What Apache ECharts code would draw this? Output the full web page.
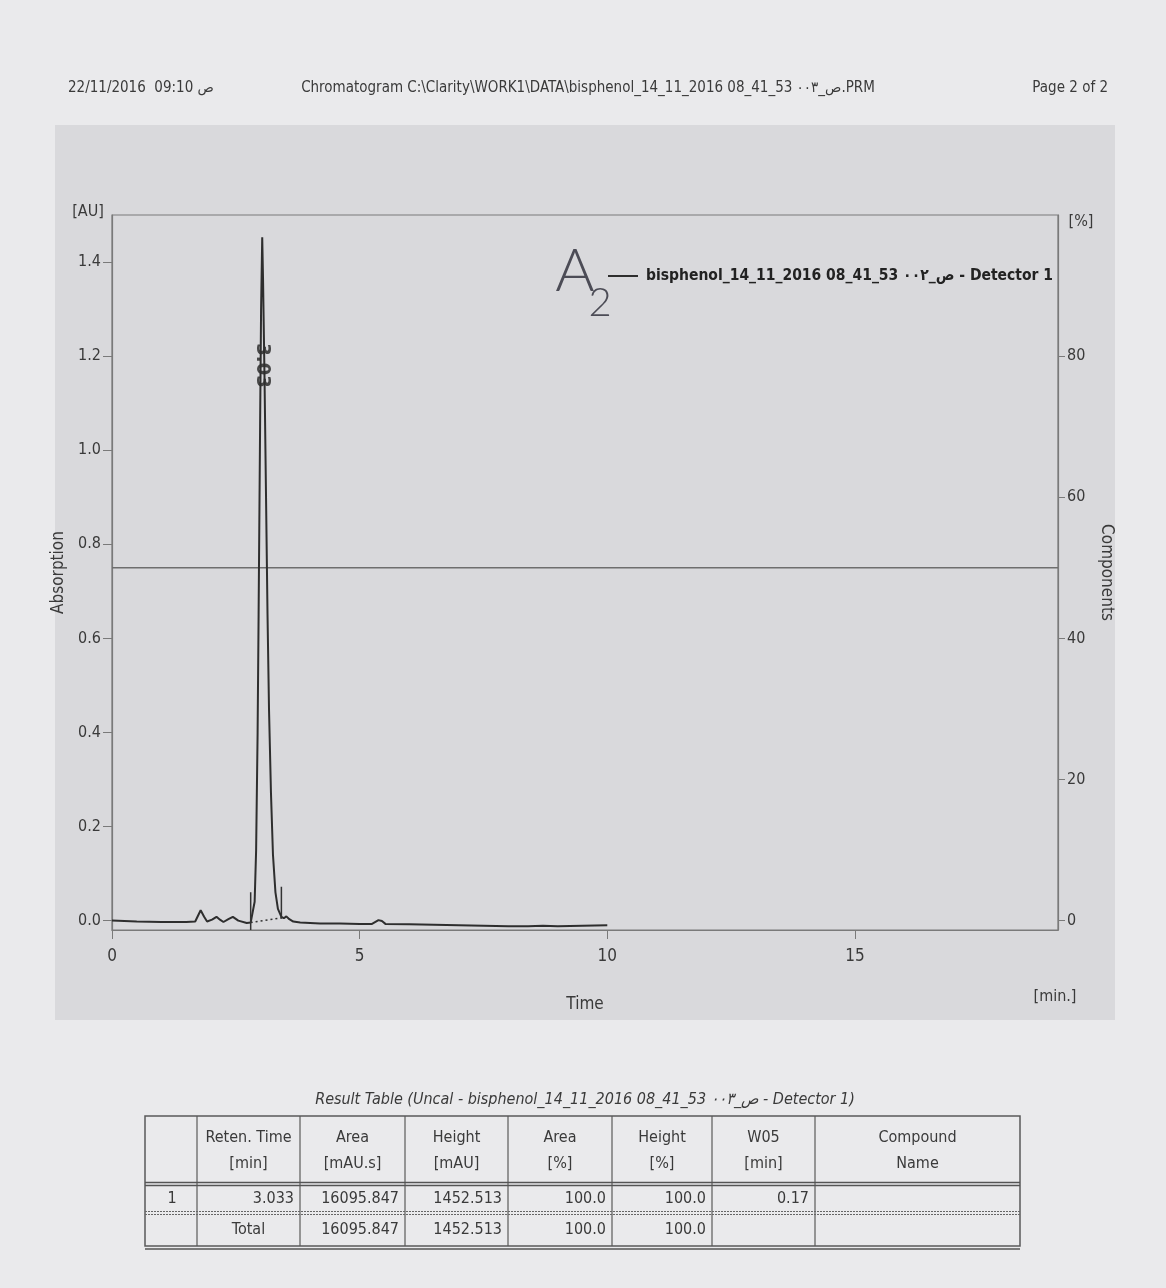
<!DOCTYPE html>
<html>
<head>
<meta charset="utf-8">
<script src="https://cdn.jsdelivr.net/npm/echarts@6/dist/echarts.min.js"></script>
<style>
  html, body { margin: 0; padding: 0; background: #eaeaec; }
  #chart { width: 1166px; height: 1288px; }
</style>
</head>
<body>
<div id="chart"></div>
<script>
// Detector 1 trace: retention time [min] and absorbance [AU]
const traceTime = [0, 0.5, 1.0, 1.5, 1.68, 1.79, 1.86, 1.92, 2.02, 2.11, 2.18, 2.25, 2.35, 2.44, 2.55, 2.72,
  2.80, 2.84, 2.88, 2.91, 2.94, 2.96, 2.99, 3.01, 3.033, 3.05, 3.08, 3.11, 3.14, 3.17, 3.21, 3.25, 3.30, 3.35,
  3.42, 3.47, 3.52, 3.58, 3.66, 3.8, 4.2, 4.6, 5.0, 5.25, 5.38, 5.45, 5.52, 6.0, 6.5, 7.0, 7.5, 8.0,
  8.4, 8.7, 9.0, 9.5, 10.0];
const traceAU = [0.000, -0.002, -0.003, -0.003, -0.002, 0.022, 0.008, -0.002, 0.002, 0.008, 0.002, -0.003, 0.003, 0.008, 0.000, -0.005,
  -0.004, 0.000, 0.04, 0.15, 0.40, 0.65, 1.05, 1.30, 1.452513, 1.36, 1.15, 0.90, 0.65, 0.45, 0.27, 0.14, 0.06, 0.025,
  0.008, 0.005, 0.009, 0.003, -0.002, -0.004, -0.006, -0.006, -0.007, -0.007, 0.001, -0.001, -0.007, -0.008, -0.009, -0.010, -0.011, -0.012,
  -0.012, -0.011, -0.012, -0.011, -0.010];

// Integration: peak start / end and the components level
const peakStart = 2.80;
const peakEnd = 3.42;
const peakRetention = 3.033;
const componentsLevel = 50;

// Axis ticks
const timeTicks = [0, 5, 10, 15];
const auTicks = [0, 0.2, 0.4, 0.6, 0.8, 1.0, 1.2, 1.4];
const pctTicks = [0, 20, 40, 60, 80];

// Result table
const tableHeaders = [['', ''], ['Reten. Time', '[min]'], ['Area', '[mAU.s]'], ['Height', '[mAU]'],
  ['Area', '[%]'], ['Height', '[%]'], ['W05', '[min]'], ['Compound', 'Name']];
const peakRow = ['1', '3.033', '16095.847', '1452.513', '100.0', '100.0', '0.17', ''];
const totalRow = ['', 'Total', '16095.847', '1452.513', '100.0', '100.0', '', ''];

const traceName = 'bisphenol_14_11_2016 08_41_53 ص_٠٠٢ - Detector 1';
const FONT = "'DejaVu Sans Condensed', 'Liberation Sans Narrow', 'DejaVu Sans', sans-serif";
const INK = '#3a3a3a';
const AXIS = '#7a7a7a';

const chart = echarts.init(document.getElementById('chart'), null, { renderer: 'canvas' });

// table geometry
const colX = [145, 197, 300, 405, 508, 612, 712, 815, 1020];
const rowY = [1116, 1184, 1213, 1246];

const tableEls = [];
tableEls.push({ type: 'rect', shape: { x: colX[0], y: rowY[0], width: colX[8] - colX[0], height: rowY[3] - rowY[0] },
  style: { fill: 'rgba(0,0,0,0)', stroke: '#5a5a5a', lineWidth: 1.5 } });
for (let i = 1; i < colX.length - 1; i++) {
  tableEls.push({ type: 'line', shape: { x1: colX[i], y1: rowY[0], x2: colX[i], y2: rowY[3] },
    style: { stroke: '#5a5a5a', lineWidth: 1.2 } });
}
tableEls.push({ type: 'line', shape: { x1: colX[0], y1: rowY[1] - 1.5, x2: colX[8], y2: rowY[1] - 1.5 }, style: { stroke: '#555', lineWidth: 1.5 } });
tableEls.push({ type: 'line', shape: { x1: colX[0], y1: rowY[1] + 1.5, x2: colX[8], y2: rowY[1] + 1.5 }, style: { stroke: '#555', lineWidth: 1.5 } });
tableEls.push({ type: 'line', shape: { x1: colX[0], y1: rowY[2] - 1.5, x2: colX[8], y2: rowY[2] - 1.5 }, style: { stroke: '#666', lineWidth: 1, lineDash: [2, 1] } });
tableEls.push({ type: 'line', shape: { x1: colX[0], y1: rowY[2] + 1.5, x2: colX[8], y2: rowY[2] + 1.5 }, style: { stroke: '#666', lineWidth: 1, lineDash: [2, 1] } });
tableEls.push({ type: 'line', shape: { x1: colX[0], y1: rowY[3] + 3, x2: colX[8], y2: rowY[3] + 3 }, style: { stroke: '#555', lineWidth: 1.5 } });

tableHeaders.forEach((h, i) => {
  const cx = (colX[i] + colX[i + 1]) / 2;
  [0, 1].forEach(k => {
    if (!h[k]) return;
    tableEls.push({ type: 'text', x: cx, y: rowY[0] + 22 + k * 26,
      style: { text: h[k], font: '16px ' + FONT, fill: INK, align: 'center', verticalAlign: 'middle' } });
  });
});
[peakRow, totalRow].forEach((row, r) => {
  const cy = (rowY[r + 1] + rowY[r + 2]) / 2;
  row.forEach((v, i) => {
    if (!v) return;
    let x = colX[i + 1] - 6, align = 'right';
    if (i === 0) { x = colX[0] + 27; align = 'center'; }
    if (v === 'Total') { x = (colX[1] + colX[2]) / 2; align = 'center'; }
    tableEls.push({ type: 'text', x: x, y: cy,
      style: { text: v, font: '16px ' + FONT, fill: INK, align: align, verticalAlign: 'middle' } });
  });
});

const option = {
  backgroundColor: '#eaeaec',
  animation: false,
  textStyle: { fontFamily: FONT },
  grid: { left: 112, right: 108, top: 215, height: 715, show: true, borderColor: AXIS, borderWidth: 1.2, backgroundColor: 'rgba(0,0,0,0)' },
  legend: {
    left: 603, top: 263, itemWidth: 30, itemHeight: 2, icon: 'rect', itemGap: 0,
    data: [traceName],
    textStyle: { fontFamily: FONT, fontWeight: 'bold', fontSize: 15.5, color: '#222', padding: [0, 0, 0, 3] }
  },
  xAxis: {
    type: 'value', min: 0, max: 19.1, interval: 5,
    name: 'Time', nameLocation: 'middle', nameGap: 66,
    nameTextStyle: { fontSize: 17, color: INK, fontFamily: FONT },
    axisLine: { show: true, onZero: false, lineStyle: { color: AXIS, width: 1.2 } },
    axisTick: { show: true, length: 9, lineStyle: { color: AXIS }, customValues: timeTicks },
    axisLabel: { fontSize: 17, color: INK, margin: 18, customValues: timeTicks, formatter: v => String(v) },
    splitLine: { show: false }
  },
  yAxis: [{
    type: 'value', min: -0.02, max: 1.5, position: 'left',
    name: 'Absorption', nameLocation: 'middle', nameGap: 40, nameRotate: 90,
    nameTextStyle: { fontSize: 17, color: INK, fontFamily: FONT },
    axisLine: { show: true, lineStyle: { color: AXIS, width: 1.2 } },
    axisTick: { show: true, length: 9, lineStyle: { color: AXIS }, customValues: auTicks },
    axisLabel: { fontSize: 16, color: INK, margin: 11, customValues: auTicks, formatter: v => v.toFixed(1) },
    splitLine: { show: false }
  }, {
    type: 'value', min: -1.3333, max: 100, position: 'right',
    name: 'Components', nameLocation: 'middle', nameGap: 40, nameRotate: -90,
    nameTextStyle: { fontSize: 17, color: INK, fontFamily: FONT },
    axisLine: { show: true, lineStyle: { color: AXIS, width: 1.2 } },
    axisTick: { show: true, length: 7, lineStyle: { color: AXIS }, customValues: pctTicks },
    axisLabel: { fontSize: 16, color: INK, margin: 9, customValues: pctTicks, formatter: v => String(v) },
    splitLine: { show: false }
  }],
  series: [{
    name: 'components',
    type: 'line', yAxisIndex: 1, showSymbol: false, silent: true,
    data: [[0, componentsLevel], [19.1, componentsLevel]],
    lineStyle: { color: '#6e6e6e', width: 1.4 }
  }, {
    name: traceName,
    type: 'line', yAxisIndex: 0, showSymbol: false, smooth: false,
    data: traceTime.map((t, i) => [t, traceAU[i]]),
    itemStyle: { color: '#2e2e2e' },
    lineStyle: { color: '#2e2e2e', width: 2 }
  }, {
    name: 'baseline',
    type: 'line', yAxisIndex: 0, showSymbol: false,
    data: [[peakStart, -0.004], [peakEnd, 0.006]],
    lineStyle: { color: '#333', width: 1.5, type: [2, 3] }
  }, {
    name: 'start',
    type: 'line', yAxisIndex: 0, showSymbol: false,
    data: [[peakStart, -0.02], [peakStart, 0.06]],
    lineStyle: { color: '#333', width: 1.5 }
  }, {
    name: 'end',
    type: 'line', yAxisIndex: 0, showSymbol: false,
    data: [[peakEnd, 0.004], [peakEnd, 0.072]],
    lineStyle: { color: '#333', width: 1.5 }
  }, {
    name: 'peak label',
    type: 'scatter', yAxisIndex: 0, symbolSize: 0,
    data: [[peakRetention, 1.18]],
    label: {
      show: true, position: 'inside', rotate: -90,
      formatter: p => p.value[0].toFixed(2),
      fontSize: 20, fontWeight: 'bold', color: '#222', fontFamily: FONT
    }
  }],
  graphic: [
    // printed panel behind the plot
    { type: 'rect', z: -10, shape: { x: 55, y: 125, width: 1060, height: 895 }, style: { fill: '#d9d9dc' } },
    { type: 'text', x: 68, y: 88, style: { text: '22/11/2016  09:10 ص', font: '15px ' + FONT, fill: INK, verticalAlign: 'middle' } },
    { type: 'text', x: 588, y: 88, style: { text: 'Chromatogram C:\\Clarity\\WORK1\\DATA\\bisphenol_14_11_2016 08_41_53 ص_٠٠٣.PRM', font: '15px ' + FONT, fill: INK, align: 'center', verticalAlign: 'middle' } },
    { type: 'text', x: 1108, y: 88, style: { text: 'Page 2 of 2', font: '15px ' + FONT, fill: INK, align: 'right', verticalAlign: 'middle' } },
    { type: 'text', x: 88, y: 212, style: { text: '[AU]', font: '16px ' + FONT, fill: INK, align: 'center', verticalAlign: 'middle' } },
    { type: 'text', x: 1081, y: 222, style: { text: '[%]', font: '16px ' + FONT, fill: INK, align: 'center', verticalAlign: 'middle' } },
    { type: 'text', x: 1055, y: 997, style: { text: '[min.]', font: '16px ' + FONT, fill: INK, align: 'center', verticalAlign: 'middle' } },
    // pen annotation
    { type: 'text', x: 575, y: 272, style: { text: 'A', font: '300 60px Lato, ' + FONT, fill: '#4c4c56', align: 'center', verticalAlign: 'middle' } },
    { type: 'text', x: 600, y: 303, style: { text: '2', font: '300 40px Lato, ' + FONT, fill: '#4c4c56', align: 'center', verticalAlign: 'middle' } },
    { type: 'text', x: 585, y: 1100, style: { text: 'Result Table (Uncal - bisphenol_14_11_2016 08_41_53 ص_٠٠٣ - Detector 1)', font: 'italic 16px ' + FONT, fill: INK, align: 'center', verticalAlign: 'middle' } }
  ].concat(tableEls)
};

chart.setOption(option);
</script>
</body>
</html>
